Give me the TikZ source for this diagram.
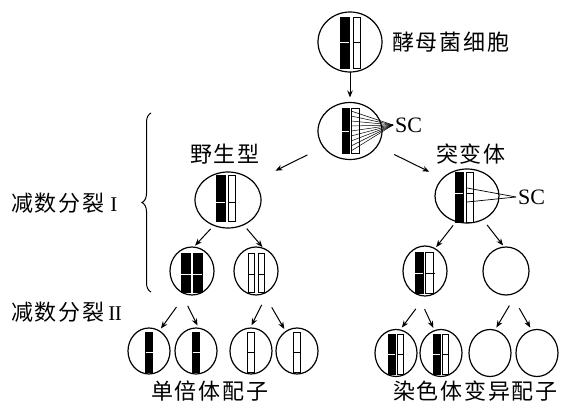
\documentclass[tikz,border=0pt]{standalone}
\usepackage{fontspec}
\setmainfont{Liberation Serif}
\newfontfamily\cjk[LetterSpace=8]{Noto Sans CJK SC}
\usetikzlibrary{shapes.geometric,decorations.pathreplacing,arrows.meta}

\begin{document}
\begin{tikzpicture}[x=1pt,y=-1pt,
  cell/.style={draw, ellipse, line width=1.2pt, inner sep=0pt, outer sep=0pt},
  gamete/.style={cell, minimum width=42pt, minimum height=46pt},
  arr/.style={->, >={Stealth[length=7pt,width=5.5pt]}, line width=1pt},
  blk/.style={fill=black, draw=black, line width=0.6pt},
  wht/.style={fill=white, draw=black, line width=0.8pt},
  txt/.style={inner sep=0pt, font=\cjk\fontsize{22}{22}\selectfont},
  sc/.style={inner sep=2pt, font=\fontsize{22}{22}\selectfont}]
\useasboundingbox (0,0) rectangle (566,410);

% cells
\node[cell, minimum width=64pt, minimum height=60pt] (yeast) at (350,42) {};
\node[cell, minimum width=64pt, minimum height=57pt] (meio) at (350,131) {};
\node[cell, minimum width=66pt, minimum height=56pt] (wild) at (228,200) {};
\node[cell, minimum width=64pt, minimum height=54pt] (mut) at (467,196) {};
\node[cell, minimum width=44pt, minimum height=48pt] (wildA) at (192,271) {};
\node[cell, minimum width=44pt, minimum height=48pt] (wildB) at (256,271) {};
\node[cell, minimum width=44pt, minimum height=50pt] (mutA) at (425,271) {};
\node[cell, minimum width=46pt, minimum height=48pt] (mutB) at (506,271) {};
\foreach \n/\x in {1/149,2/196,3/251,4/297}
  \node[gamete] (g\n) at (\x,351) {};
\foreach \n/\x in {5/396,6/441,7/490,8/537}
  \node[gamete, minimum height=47pt] (g\n) at (\x,353) {};

% labels
\node[txt, anchor=west] (yeastlab) at (392,42) {酵母菌细胞};
\node[sc, anchor=west] (sc1) at (393,125) {SC};
\node[txt] (wildlab) at (225,154) {野生型};
\node[txt] (mutlab) at (471,154) {突变体};
\node[sc, anchor=west] (sc2) at (516,197) {SC};
\node[txt, anchor=west] (mei1) at (11,203) {减数分裂\hspace{6pt}{\rmfamily\fontsize{21}{21}\selectfont I}};
\node[txt, anchor=west] (mei2) at (11,312) {减数分裂\hspace{4pt}{\rmfamily\fontsize{21}{21}\selectfont I\kern-0.6ptI}};
\node[txt, anchor=west] (haplab) at (151,391) {单倍体配子};
\node[txt, anchor=west] (anelab) at (393,391) {染色体变异配子};
\draw[decorate, decoration={brace, amplitude=9pt}, line width=1pt] (151,292) -- (151,113);

% chromosomes
\draw[blk] (340,17) rectangle (349,68);
\draw[wht] (353,17) rectangle (360,68);
\draw[white, thin] (340,42) -- (349,42);
\draw (353,42) -- (360,42);

\draw[blk] (342,108) rectangle (349,153);
\draw[wht] (351,108) rectangle (359,153);
\draw[white, thin] (342,131) -- (349,131);
\foreach \y in {111,116,...,151}
  \draw[line width=0.5pt] (351,\y) -- (sc1.west);

\draw[blk] (216,175) rectangle (225,221);
\draw[wht] (228,175) rectangle (235,221);
\draw[white, thin] (216,202) -- (225,202);
\draw (228,202) -- (235,202);

\draw[blk] (455,172) rectangle (463,222);
\draw[wht] (466,172) rectangle (473,222);
\draw[white, thin] (455,193) -- (463,193);
\draw (466,193) -- (473,193);
\draw[line width=0.7pt] (467,188) -- (sc2.west);
\draw[line width=0.7pt] (467,202) -- (sc2.west);

\draw[blk] (181,253) rectangle (190,292);
\draw[blk] (193,253) rectangle (202,292);
\draw[white, thin] (181,274) -- (202,274);
\draw[wht] (248,253) rectangle (254,292);
\draw[wht] (258,253) rectangle (264,292);
\draw (248,274) -- (254,274) (258,274) -- (264,274);

\draw[blk] (415,252) rectangle (423,293);
\draw[wht] (425,252) rectangle (433,293);
\draw[white, thin] (415,273) -- (423,273);
\draw (425,273) -- (435,273);

\foreach \x in {149,196} {
  \draw[blk] (\x-3.5,332) rectangle (\x+3.5,372);
  \draw[white, thin] (\x-3.5,352) -- (\x+3.5,352);
}
\foreach \x in {251,297} {
  \draw[wht] (\x-3.5,332) rectangle (\x+3.5,372);
  \draw (\x-3.5,352) -- (\x+3.5,352);
}
\foreach \x in {396,441} {
  \draw[blk] (\x-8,334) rectangle (\x-1,374);
  \draw[wht] (\x+1,334) rectangle (\x+7,374);
  \draw[white, thin] (\x-8,354) -- (\x-1,354);
  \draw (\x+1,354) -- (\x+7,354);
}

% arrows
\draw[arr, shorten >=5pt] (yeast) -- (meio);
\draw[arr, shorten <=18pt, shorten >=25pt] (meio.211) -- (wild.36);
\draw[arr, shorten <=19pt, shorten >=15pt] (meio.331) -- (mut.144);
\draw[arr, shorten <=5pt, shorten >=2pt] (wild.241) -- (wildA.86);
\draw[arr, shorten <=5pt, shorten >=2pt] (wild.302) -- (wildB.71);
\draw[arr, shorten <=5pt, shorten >=2pt] (mut.247) -- (mutA.66);
\draw[arr, shorten <=7pt, shorten >=2pt] (mut.304) -- (mutB.94);
\draw[arr, shorten <=16pt, shorten >=3pt] (wildA.255) -- (g1.63);
\draw[arr, shorten <=16pt, shorten >=3pt] (wildA.241) -- (g2.83);
\draw[arr, shorten <=16pt, shorten >=3pt] (wildB.303) -- (g3.92);
\draw[arr, shorten <=16pt, shorten >=3pt] (wildB.289) -- (g4.120);
\draw[arr, shorten <=16pt, shorten >=3pt] (mutA.271) -- (g5.80);
\draw[arr, shorten <=16pt, shorten >=3pt] (mutA.253) -- (g6.106);
\draw[arr, shorten <=16pt, shorten >=3pt] (mutB.299) -- (g7.78);
\draw[arr, shorten <=16pt, shorten >=3pt] (mutB.283) -- (g8.103);
\end{tikzpicture}
\end{document}
